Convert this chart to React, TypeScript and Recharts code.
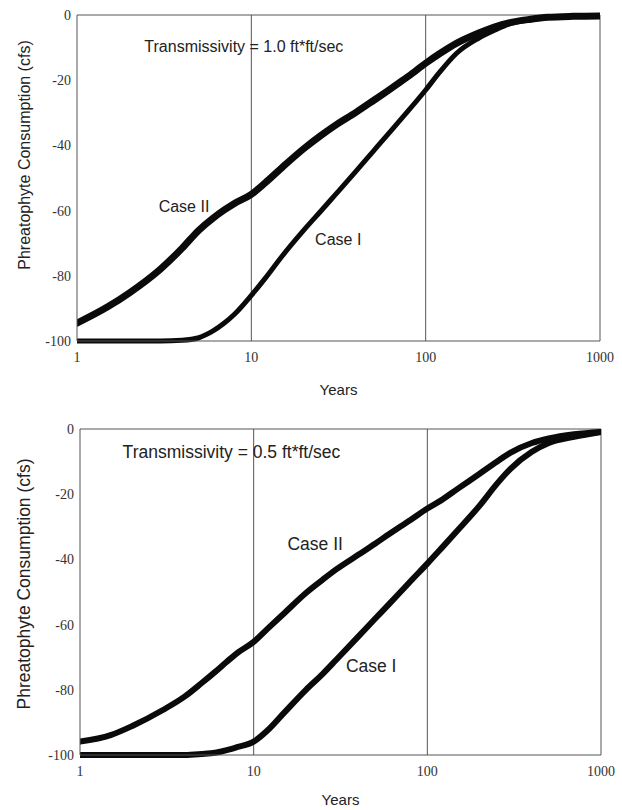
import React from 'react';
import { LineChart, Line, XAxis, YAxis, ReferenceLine, ReferenceDot } from 'recharts';

// years (log axis)
const years = [1, 1.5, 2, 3, 4, 5, 6, 7, 8, 10, 12, 15, 20, 25, 30, 40, 50, 60, 70, 80, 100, 120, 150, 200, 250, 300, 400, 500, 700, 1000];

// Transmissivity = 1.0
const t1CaseI = [-100, -100, -100, -100, -99.8, -99, -97, -94.5, -91.8, -86, -80.8, -74, -66, -60.2, -55.4, -47.8, -41.8, -36.9, -32.8, -29.2, -23, -17.6, -11.8, -7.2, -4.6, -2.8, -1.5, -0.8, -0.4, -0.3];
const t1CaseII = [-94.5, -89.5, -85.2, -78, -71.6, -66, -62.4, -59.8, -57.8, -55, -51.5, -46.8, -41, -37, -34, -29.8, -26.3, -23.4, -20.9, -18.7, -14.8, -11.9, -8.7, -5.6, -3.6, -2.4, -1.3, -0.7, -0.4, -0.3];

// Transmissivity = 0.5
const t05CaseI = [-100, -100, -100, -100, -100, -99.7, -99.3, -98.5, -97.6, -95.9, -92.5, -87, -80, -75.1, -70.7, -63.7, -58.2, -53.8, -50, -46.7, -41.3, -36.7, -31, -23.5, -17, -12.3, -7, -4.3, -2.4, -0.9];
const t05CaseII = [-95.9, -93.9, -91.1, -86.2, -82.1, -78, -74.5, -71.4, -68.8, -65.3, -61.3, -56.5, -50.3, -46.2, -43, -38.6, -35.2, -32.3, -29.9, -27.9, -24.4, -21.9, -18.3, -13.7, -10.1, -7.3, -4.3, -2.9, -1.6, -0.9];

const xTicks = [1, 10, 100, 1000];
const yTicks = [-100, -80, -60, -40, -20, 0];

const toPoints = (vals: number[]) => years.map((x, i) => ({ x, y: vals[i] }));

const tickStyle = { fontFamily: 'Liberation Serif', fontSize: 14, fill: '#333' };
const sans = 'Liberation Sans, Arial, sans-serif';
const ink = '#0a0a0a';
const frame = '#555';

const yTitle = (cx: number, cy: number, size: number) => () => (
  <text
    x={cx}
    y={cy}
    transform={`rotate(-90, ${cx}, ${cy})`}
    textAnchor="middle"
    fontFamily={sans}
    fontSize={size}
    fill="#222"
  >
    Phreatophyte Consumption (cfs)
  </text>
);

const note = (x: number, y: number, text: string, size: number) => (
  <ReferenceDot
    x={x}
    y={y}
    r={0}
    stroke="none"
    fill="none"
    label={{ value: text, position: 'center', fontFamily: sans, fontSize: size, fill: '#222' }}
  />
);

interface PanelProps {
  top: number;
  height: number;
  margin: { top: number; right: number; bottom: number; left: number };
  yAxisWidth: number;
  xAxisHeight: number;
  caseI: number[];
  caseII: number[];
  caseIWidth: number;
  caseIIWidth: number;
  title: string;
  titlePos: [number, number];
  caseIPos: [number, number];
  caseIIPos: [number, number];
  fontSize: number;
  yTitleY: number;
}

const Panel: React.FC<PanelProps> = (p) => (
  <div style={{ position: 'absolute', left: 0, top: p.top }}>
    <LineChart width={622} height={p.height} margin={p.margin}>
      <XAxis
        type="number"
        dataKey="x"
        scale="log"
        domain={[1, 1000]}
        ticks={xTicks}
        allowDataOverflow
        tickLine={false}
        tickSize={9}
        tickMargin={2}
        height={p.xAxisHeight}
        axisLine={{ stroke: frame }}
        tick={tickStyle}
        label={{ value: 'Years', position: 'insideBottom', offset: 5, fontFamily: sans, fontSize: 15, fill: '#222' }}
      />
      <YAxis
        type="number"
        domain={[-100, 0]}
        ticks={yTicks}
        width={p.yAxisWidth}
        tickLine={false}
        tickSize={4}
        tickMargin={2}
        axisLine={{ stroke: frame }}
        tick={tickStyle}
        label={{ content: yTitle(29.5, p.yTitleY, p.fontSize) }}
      />
      <ReferenceLine y={0} stroke={frame} />
      <ReferenceLine x={1000} stroke={frame} />
      <ReferenceLine x={10} stroke={frame} />
      <ReferenceLine x={100} stroke={frame} />
      <Line
        data={toPoints(p.caseI)}
        dataKey="y"
        type="monotone"
        stroke={ink}
        strokeWidth={p.caseIWidth}
        strokeLinecap="round"
        dot={false}
        isAnimationActive={false}
      />
      <Line
        data={toPoints(p.caseII)}
        dataKey="y"
        type="monotone"
        stroke={ink}
        strokeWidth={p.caseIIWidth}
        strokeLinecap="round"
        dot={false}
        isAnimationActive={false}
      />
      {note(p.titlePos[0], p.titlePos[1], p.title, p.fontSize)}
      {note(p.caseIIPos[0], p.caseIIPos[1], 'Case II', p.fontSize)}
      {note(p.caseIPos[0], p.caseIPos[1], 'Case I', p.fontSize)}
    </LineChart>
  </div>
);

export default function App() {
  return (
    <div style={{ position: 'absolute', left: 0, top: 0, width: 622, height: 810, background: '#fff' }}>
      <Panel
        top={0}
        height={400}
        margin={{ top: 15, right: 22, bottom: 0, left: 0 }}
        yAxisWidth={77}
        xAxisHeight={59}
        caseI={t1CaseI}
        caseII={t1CaseII}
        caseIWidth={5}
        caseIIWidth={7}
        title="Transmissivity = 1.0 ft*ft/sec"
        titlePos={[9.06, -9.7]}
        caseIIPos={[4.11, -58.8]}
        caseIPos={[31.5, -68.7]}
        fontSize={16}
        yTitleY={155}
      />
      <Panel
        top={400}
        height={410}
        margin={{ top: 29, right: 21, bottom: 0, left: 0 }}
        yAxisWidth={80}
        xAxisHeight={55}
        caseI={t05CaseI}
        caseII={t05CaseII}
        caseIWidth={6}
        caseIIWidth={6}
        title="Transmissivity = 0.5 ft*ft/sec"
        titlePos={[7.45, -7.05]}
        caseIIPos={[22.6, -35.1]}
        caseIPos={[47.5, -72.7]}
        fontSize={17.5}
        yTitleY={184}
      />
    </div>
  );
}
